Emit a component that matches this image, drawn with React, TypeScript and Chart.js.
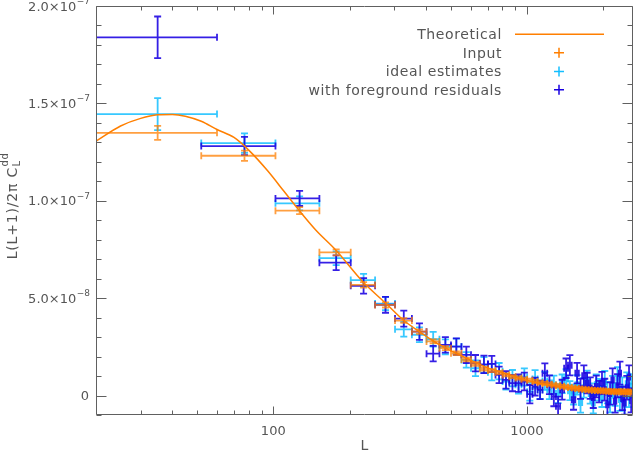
import { useEffect, useRef } from "react"
import { Chart, registerables, type Plugin, type ChartConfiguration } from "chart.js"

Chart.register(...registerables)

// bin centres in L, every bin is +-25 wide
const binCenters = [
  35, 77, 127, 177, 227, 277, 327, 377, 427, 477, 527, 577, 627, 677, 727, 777, 827, 877,
  927, 977, 1027, 1077, 1127, 1177, 1227, 1277, 1327, 1377, 1427, 1477, 1527, 1577, 1627,
  1677, 1727, 1777, 1827, 1877, 1927, 1977, 2027, 2077, 2127, 2177, 2227, 2277, 2327, 2377,
  2427, 2477, 2527, 2577,
]
const BIN_HALF_WIDTH = 25

// values in units of 1e-8
const inputValues = [
  13.49, 12.31, 9.49, 7.35, 5.68, 4.65, 3.85, 3.28, 2.78, 2.43, 2.17, 1.85, 1.62, 1.37, 1.28, 1.18, 1.06, 0.97,
  0.9, 0.84, 0.78, 0.72, 0.66, 0.62, 0.58, 0.54, 0.5, 0.47, 0.44, 0.41, 0.38, 0.36, 0.34,
  0.32, 0.3, 0.29, 0.27, 0.26, 0.25, 0.24, 0.23, 0.22, 0.21, 0.21, 0.2, 0.2, 0.19, 0.19,
  0.18, 0.18, 0.18, 0.17,
]
const inputErrors = [
  0.36, 0.26, 0.18, 0.15, 0.14, 0.13, 0.12, 0.11, 0.1, 0.1, 0.1, 0.09, 0.09, 0.09, 0.08, 0.08, 0.08, 0.08,
  0.08, 0.08, 0.08, 0.08, 0.08, 0.08, 0.08, 0.08, 0.08, 0.08, 0.08, 0.08, 0.08, 0.08, 0.08,
  0.08, 0.08, 0.08, 0.08, 0.08, 0.08, 0.08, 0.08, 0.08, 0.08, 0.08, 0.08, 0.08, 0.08, 0.08,
  0.08, 0.08, 0.08, 0.08,
]
const idealValues = [
  14.45, 12.96, 9.87, 7.05, 5.93, 4.72, 3.4, 3.12, 2.89, 2.5, 2.52, 1.83, 1.4, 1.57, 1.2, 1.25, 0.72, 0.89,
  0.55, 0.95, 0.2, 0.85, 0.3, 0.75, 0.3, 0.55, 0.1, 0.6, 0.85, 0.25, 0.05, 0.55, -0.36,
  0.4, 0.75, 0.1, -0.38, 0.55, 0.3, -0.05, 0.7, 0.15, -0.3, 0.45, 0.05, 0.89, -0.2, 0.35,
  -0.45, 0.6, 0.0, 0.5,
]
const idealErrors = [
  0.82, 0.5, 0.36, 0.35, 0.32, 0.34, 0.38, 0.38, 0.38, 0.38, 0.4, 0.4, 0.4, 0.4, 0.42, 0.42, 0.42, 0.42,
  0.45, 0.44, 0.46, 0.45, 0.47, 0.46, 0.48, 0.47, 0.49, 0.48, 0.5, 0.49, 0.51, 0.5, 0.52,
  0.51, 0.53, 0.52, 0.54, 0.53, 0.55, 0.54, 0.56, 0.55, 0.57, 0.56, 0.58, 0.57, 0.59, 0.58,
  0.6, 0.59, 0.6, 0.6,
]
const foregroundValues = [
  18.39, 12.81, 10.12, 6.82, 5.63, 4.66, 3.95, 3.28, 2.15, 2.6, 2.51, 2.09, 1.66, 1.6, 1.62, 1.06, 0.8, 0.64,
  0.64, 0.72, 0.07, 0.46, 0.29, 1.15, 0.55, -0.05, -0.55, 0.3, 1.4, 1.55, -0.22, 1.15, 0.35,
  1.01, 0.64, 0.38, -0.1, 0.46, 0.2, 0.64, 0.3, -0.48, 0.1, 0.8, -0.3, 0.5, 1.15, -0.15,
  -0.38, 0.4, 0.95, -0.25,
]
const foregroundErrors = [
  1.07, 0.47, 0.39, 0.38, 0.4, 0.41, 0.41, 0.42, 0.4, 0.4, 0.42, 0.42, 0.42, 0.45, 0.42, 0.42, 0.45, 0.42,
  0.45, 0.46, 0.47, 0.46, 0.48, 0.5, 0.48, 0.5, 0.49, 0.51, 0.5, 0.52, 0.51, 0.53, 0.52,
  0.54, 0.53, 0.55, 0.54, 0.56, 0.55, 0.57, 0.56, 0.58, 0.57, 0.59, 0.58, 0.6, 0.59, 0.6,
  0.6, 0.61, 0.6, 0.62,
]

// theoretical curve
const theoryL = [
  20, 25, 30, 35, 40, 45, 52, 60, 70, 80, 95, 110, 128, 147, 177, 227, 277, 327, 377, 427,
  477, 527, 600, 700, 800, 938, 1100, 1300, 1500, 1750, 2000, 2300, 2620,
]
const theoryValues = [
  13.06, 13.84, 14.23, 14.41, 14.43, 14.34, 14.08, 13.66, 13.25, 12.6, 11.54, 10.5, 9.42, 8.5, 7.45, 5.8, 4.75, 3.85, 3.28, 2.8,
  2.45, 2.17, 1.82, 1.42, 1.18, 0.88, 0.66, 0.5, 0.39, 0.3, 0.24, 0.21, 0.19,
]

const seriesNames = ["Theoretical", "Input", "ideal estimates", "with foreground residuals"]

const xMajorTicks = [100, 1000]
const xMinorTicks = [20, 30, 40, 50, 60, 70, 80, 90, 200, 300, 400, 500, 600, 700, 800, 900, 2000]
const yMajorTicks = [0, 5, 10, 15, 20]
const yTickMantissas = ["0", "5.0×10", "1.0×10", "1.5×10", "2.0×10"]
const yTickExponents = ["", "−8", "−7", "−7", "−7"]
const yMinorTicks = [-1, 1, 2, 3, 4, 6, 7, 8, 9, 11, 12, 13, 14, 16, 17, 18, 19]

const ORANGE = "rgb(255,127,0)"
const INPUT_COLOR = "rgba(255,127,0,0.75)"
const IDEAL_COLOR = "rgba(20,190,255,0.85)"
const FG_COLOR = "rgba(25,0,225,0.88)"
const AXIS_COLOR = "#606060"
const TEXT_COLOR = "#555555"
const FONT = "'DejaVu Sans', sans-serif"
const CAP = 3.5

const errorBarPlugin: Plugin = {
  id: "errorBars",
  beforeDatasetsDraw(chart) {
    const { ctx, chartArea, scales } = chart
    const xs = scales.x
    const ys = scales.y
    ctx.save()
    ctx.beginPath()
    ctx.rect(chartArea.left, chartArea.top, chartArea.right - chartArea.left, chartArea.bottom - chartArea.top)
    ctx.clip()
    chart.data.datasets.forEach((ds: any) => {
      if (!ds.errY) return
      ctx.strokeStyle = ds.barColor
      ctx.lineWidth = 1.8
      ds.data.forEach((p: { x: number; y: number }, i: number) => {
        const x0 = xs.getPixelForValue(p.x - BIN_HALF_WIDTH)
        const x1 = xs.getPixelForValue(p.x + BIN_HALF_WIDTH)
        const xc = xs.getPixelForValue(p.x)
        const yc = ys.getPixelForValue(p.y)
        const y0 = ys.getPixelForValue(p.y - ds.errY[i])
        const y1 = ys.getPixelForValue(p.y + ds.errY[i])
        ctx.beginPath()
        ctx.moveTo(x0, yc)
        ctx.lineTo(x1, yc)
        ctx.moveTo(x0, yc - CAP)
        ctx.lineTo(x0, yc + CAP)
        ctx.moveTo(x1, yc - CAP)
        ctx.lineTo(x1, yc + CAP)
        ctx.moveTo(xc, y0)
        ctx.lineTo(xc, y1)
        ctx.moveTo(xc - CAP, y0)
        ctx.lineTo(xc + CAP, y0)
        ctx.moveTo(xc - CAP, y1)
        ctx.lineTo(xc + CAP, y1)
        ctx.stroke()
      })
    })
    ctx.restore()
  },
}

const axesPlugin: Plugin = {
  id: "idlAxes",
  afterDraw(chart) {
    const { ctx, chartArea: a, scales } = chart
    const xs = scales.x
    const ys = scales.y
    const left = Math.round(a.left) + 0.5
    const right = Math.round(a.right) - 0.5
    const top = Math.round(a.top) + 0.5
    const bottom = Math.round(a.bottom) - 0.5

    ctx.save()
    ctx.strokeStyle = AXIS_COLOR
    ctx.lineWidth = 1
    ctx.beginPath()
    ctx.rect(left, top, right - left, bottom - top)

    const xTick = (v: number, len: number) => {
      const px = Math.round(xs.getPixelForValue(v)) + 0.5
      ctx.moveTo(px, bottom)
      ctx.lineTo(px, bottom - len)
      ctx.moveTo(px, top)
      ctx.lineTo(px, top + len)
    }
    const yTick = (v: number, len: number) => {
      const py = Math.round(ys.getPixelForValue(v)) + 0.5
      ctx.moveTo(left, py)
      ctx.lineTo(left + len, py)
      ctx.moveTo(right, py)
      ctx.lineTo(right - len, py)
    }
    xMajorTicks.forEach((v) => xTick(v, 8))
    xMinorTicks.forEach((v) => xTick(v, 4))
    yMajorTicks.forEach((v) => yTick(v, 10))
    yMinorTicks.forEach((v) => yTick(v, 5))
    ctx.stroke()

    // y tick labels with exponents
    ctx.fillStyle = TEXT_COLOR
    ctx.textAlign = "right"
    ctx.textBaseline = "alphabetic"
    yMajorTicks.forEach((v, i) => {
      const py = ys.getPixelForValue(v)
      const exp = yTickExponents[i]
      let r = 90
      if (exp) {
        ctx.font = `9px ${FONT}`
        ctx.fillText(exp, r, py - 2)
        r -= ctx.measureText(exp).width + 0.5
      } else {
        r = 89
      }
      ctx.font = `13px ${FONT}`
      ctx.fillText(yTickMantissas[i], r, py + 4.7)
    })

    // x title
    ctx.textAlign = "center"
    ctx.font = `14px ${FONT}`
    ctx.fillText("L", (a.left + a.right) / 2, 450)

    // y title, rotated
    ctx.save()
    ctx.translate(12, 206)
    ctx.rotate(-Math.PI / 2)
    ctx.textAlign = "left"
    ;(ctx as any).letterSpacing = "0.8px"
    ctx.font = `14px ${FONT}`
    const main = "L(L+1)/2π C"
    const wMain = ctx.measureText(main).width
    ctx.font = `10px ${FONT}`
    const wSup = ctx.measureText("dd").width
    const x0 = -(wMain + wSup) / 2
    ctx.font = `14px ${FONT}`
    ctx.fillText(main, x0, 5)
    ctx.font = `10px ${FONT}`
    ctx.fillText("L", x0 + wMain + 0.5, 8)
    ctx.fillText("dd", x0 + wMain + 0.5, -4)
    ctx.restore()

    // legend
    ctx.textAlign = "right"
    ;(ctx as any).letterSpacing = "0.6px"
    ctx.font = `14px ${FONT}`
    const rowY = [34.3, 52.8, 71.4, 89.8]
    seriesNames.forEach((name, i) => {
      ctx.fillStyle = TEXT_COLOR
      ctx.fillText(name, 502, rowY[i] + 5)
    })
    ;(ctx as any).letterSpacing = "0px"
    ctx.lineWidth = 1.5
    ctx.strokeStyle = ORANGE
    ctx.beginPath()
    ctx.moveTo(515, rowY[0])
    ctx.lineTo(604, rowY[0])
    ctx.stroke()
    const plusColors = [ORANGE, "rgb(20,190,255)", "rgb(25,0,225)"]
    plusColors.forEach((c, i) => {
      const cy = rowY[i + 1]
      ctx.strokeStyle = c
      ctx.beginPath()
      ctx.moveTo(554, cy)
      ctx.lineTo(564, cy)
      ctx.moveTo(559, cy - 5)
      ctx.lineTo(559, cy + 5)
      ctx.stroke()
    })
    ctx.restore()
  },
}

const toPoints = (vals: number[]) => binCenters.map((x, i) => ({ x, y: vals[i] }))

export default function App() {
  const canvasRef = useRef<HTMLCanvasElement>(null)

  useEffect(() => {
    document.body.style.margin = "0"
    const canvas = canvasRef.current
    if (!canvas) return

    const config: ChartConfiguration<"scatter"> = {
      type: "scatter",
      data: {
        datasets: [
          { label: seriesNames[2], data: toPoints(idealValues), pointRadius: 0, errY: idealErrors, barColor: IDEAL_COLOR } as any,
          { label: seriesNames[3], data: toPoints(foregroundValues), pointRadius: 0, errY: foregroundErrors, barColor: FG_COLOR } as any,
          { label: seriesNames[1], data: toPoints(inputValues), pointRadius: 0, errY: inputErrors, barColor: INPUT_COLOR } as any,
          {
            label: seriesNames[0],
            data: theoryL.map((x, i) => ({ x, y: theoryValues[i] })),
            showLine: true,
            pointRadius: 0,
            borderColor: ORANGE,
            borderWidth: 1.5,
            cubicInterpolationMode: "monotone",
          },
        ],
      },
      options: {
        animation: false,
        responsive: true,
        maintainAspectRatio: false,
        events: [],
        layout: { padding: { top: 6, right: 1, left: 0, bottom: 0 } },
        plugins: { legend: { display: false }, tooltip: { enabled: false } },
        scales: {
          x: {
            type: "logarithmic",
            min: 20,
            max: 2620,
            grid: { display: false, drawTicks: false },
            border: { display: false },
            ticks: {
              color: TEXT_COLOR,
              font: { family: FONT, size: 13 },
              padding: 9,
              autoSkip: false,
              maxRotation: 0,
              callback: (v) => String(v),
            },
            afterBuildTicks: (s) => {
              s.ticks = xMajorTicks.map((value) => ({ value }))
            },
            afterFit: (s) => {
              s.height = 39
            },
          },
          y: {
            type: "linear",
            min: -1,
            max: 20,
            grid: { display: false, drawTicks: false },
            border: { display: false },
            ticks: { display: false },
            afterFit: (s) => {
              s.width = 96
            },
          },
        },
      },
      plugins: [errorBarPlugin, axesPlugin],
    }

    const chart = new Chart(canvas, config)
    return () => chart.destroy()
  }, [])

  return (
    <div style={{ position: "relative", width: 634, height: 454 }}>
      <canvas ref={canvasRef} />
    </div>
  )
}
